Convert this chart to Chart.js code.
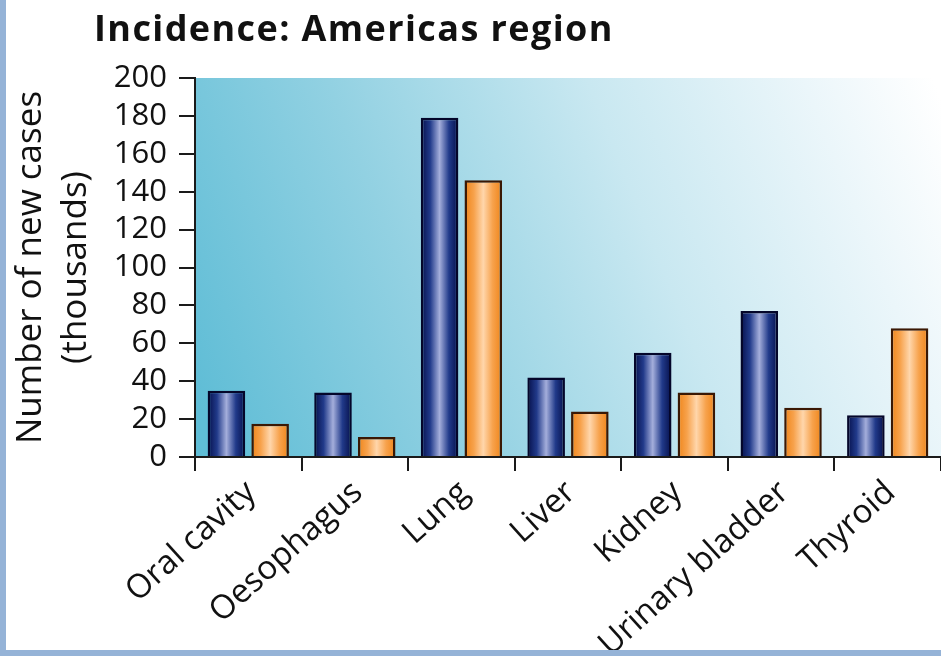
<!DOCTYPE html>
<html>
<head>
<meta charset="utf-8">
<script src="https://cdn.jsdelivr.net/npm/chart.js@4.4.1/dist/chart.umd.min.js"></script>
<style>
  html, body { margin: 0; padding: 0; width: 941px; height: 656px; overflow: hidden; background: #fff; }
  #wrap { position: absolute; left: 0; top: 0; width: 941px; height: 650px; }
  #edgeL { position: absolute; left: 0; top: 0; width: 6px; height: 656px; background: #95b3d7; }
  #edgeB { position: absolute; left: 0; top: 650px; width: 941px; height: 6px; background: #95b3d7; }
  #title { position: absolute; left: 94px; top: 3px; font: 700 36px "Open Sans", sans-serif; letter-spacing: 1.4px; color: #111; white-space: nowrap; }
</style>
</head>
<body>
<div id="wrap"><canvas id="chart" width="941" height="650"></canvas></div>
<div id="title">Incidence: Americas region</div>
<div id="edgeL"></div>
<div id="edgeB"></div>
<script>
// Cancer sites
const categories = ['Oral cavity', 'Oesophagus', 'Lung', 'Liver', 'Kidney', 'Urinary bladder', 'Thyroid'];
// New cases, thousands
const maleCases = [35, 34, 179, 42, 55, 77, 22];
const femaleCases = [17.5, 10.5, 146, 24, 34, 26, 68];
// Y axis range and step
const yMin = 0;
const yMax = 200;
const yStep = 20;

const FONT = '"Open Sans", sans-serif';

// Cylinder-like shading across each bar
const barShades = {
  male: ['#050f4a', '#213a8a', '#a4aedb', '#213a8a', '#050f4a'],
  female: ['#ef8418', '#f7a24c', '#ffd6ab', '#f7a24c', '#ef8418']
};

const shadingPlugin = {
  id: 'shading',
  beforeDraw(chart) {
    const { ctx, chartArea: a } = chart;
    const g = ctx.createLinearGradient(a.left, a.bottom - 60, a.right, a.top + 20);
    g.addColorStop(0, '#5fbdd6');
    g.addColorStop(0.3, '#92d1e2');
    g.addColorStop(0.6, '#c9e8f1');
    g.addColorStop(0.85, '#ebf6fa');
    g.addColorStop(1, '#ffffff');
    ctx.save();
    ctx.fillStyle = g;
    ctx.fillRect(a.left, a.top, a.right - a.left, a.bottom - a.top);
    ctx.restore();
  },
  beforeDatasetsDraw(chart) {
    const { ctx } = chart;
    chart.data.datasets.forEach((ds, di) => {
      const stops = barShades[ds.shade];
      chart.getDatasetMeta(di).data.forEach(el => {
        const { x, width } = el.getProps(['x', 'width'], true);
        const g = ctx.createLinearGradient(x - width / 2, 0, x + width / 2, 0);
        stops.forEach((c, i) => g.addColorStop(i / (stops.length - 1), c));
        el.options.backgroundColor = g;
      });
    });
  }
};

new Chart(document.getElementById('chart'), {
  type: 'bar',
  data: {
    labels: categories,
    datasets: [
      {
        label: 'Male', shade: 'male', data: maleCases,
        backgroundColor: () => '#213a8a', borderColor: '#04062a', borderWidth: 2.5,
        categoryPercentage: 0.82, barPercentage: 0.86
      },
      {
        label: 'Female', shade: 'female', data: femaleCases,
        backgroundColor: () => '#f7a24c', borderColor: '#3a1804', borderWidth: 2.5,
        categoryPercentage: 0.82, barPercentage: 0.86
      }
    ]
  },
  plugins: [shadingPlugin],
  options: {
    responsive: false,
    animation: false,
    events: [],
    layout: { padding: { top: 78, right: 0, bottom: 0, left: 0 } },
    plugins: { legend: { display: false }, tooltip: { enabled: false }, title: { display: false } },
    scales: {
      x: {
        offset: true,
        grid: { display: true, offset: true, drawOnChartArea: false, drawTicks: true, tickLength: 14, color: '#1a1a1a', lineWidth: 2 },
        border: { display: true, color: '#1a1a1a', width: 2 },
        ticks: { color: '#111', font: { family: FONT, size: 33 }, minRotation: 42, maxRotation: 42, padding: 2, labelOffset: 3, autoSkip: false },
        afterFit: s => { s.height = 193; }
      },
      y: {
        min: yMin, max: yMax,
        grid: { display: true, drawOnChartArea: false, drawTicks: true, tickLength: 16, color: '#1a1a1a', lineWidth: 2 },
        border: { display: true, color: '#1a1a1a', width: 2 },
        ticks: { stepSize: yStep, autoSkip: false, maxTicksLimit: 20, color: '#111', font: { family: FONT, size: 31, lineHeight: 1 }, padding: 12 },
        title: {
          display: true,
          text: ['Number of new cases', '(thousands)'],
          color: '#111',
          font: { family: FONT, size: 35, lineHeight: 1.3 },
          padding: { top: 8, bottom: 0 }
        },
        afterFit: s => { s.width = 195; }
      }
    }
  }
});
</script>
</body>
</html>
